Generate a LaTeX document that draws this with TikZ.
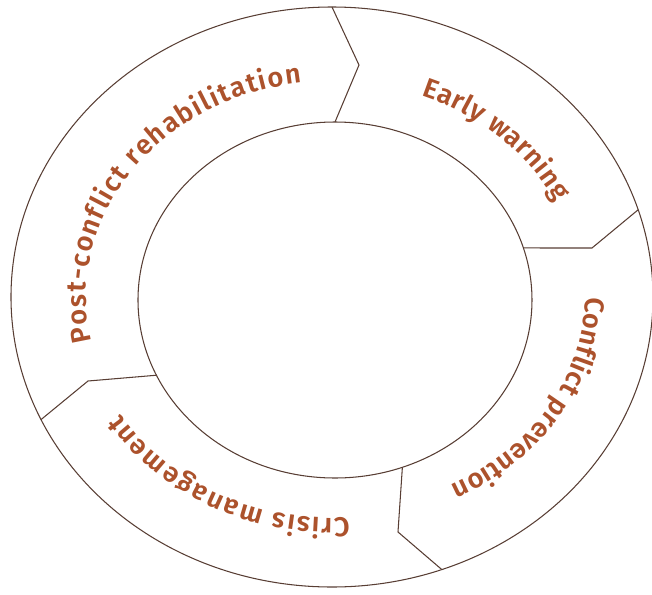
\documentclass[tikz,border=0pt]{standalone}
\usepackage{fontspec}
\newfontfamily\lblfont{Fira Sans SemiBold}
\usepackage{tikz}
\usetikzlibrary{calc,decorations.text}

\definecolor{ringcol}{RGB}{88,62,52}
\definecolor{lblcol}{RGB}{172,82,44}

\tikzset{
    ring/.style={draw=ringcol, line width=0.6pt},
    divider/.style={draw=ringcol, line width=0.6pt, line join=miter},
    ringtext/.style={decorate, decoration={text along path, text align=fit to path,
        text color=lblcol, text={|\lblfont\fontsize{15.5}{18}\selectfont|#1}}}
}

\begin{document}
\begin{tikzpicture}
    \useasboundingbox (-6.64,-5.94) rectangle (6.40,5.94);

    % Centres
    \coordinate (o) at (0,0);
    \coordinate (i) at (0.06,-0.06);

    % Rings
    \draw[ring] (o) ellipse [x radius=6.42cm, y radius=5.80cm];
    \draw[ring] (i) ellipse [x radius=3.94cm, y radius=3.56cm];

    % Divider ends on the outer ring
    \coordinate (o1) at ($(o)+(90:6.42cm and 5.80cm)$);
    \coordinate (o2) at ($(o)+(17.5:6.42cm and 5.80cm)$);
    \coordinate (o3) at ($(o)+(-70:6.42cm and 5.80cm)$);
    \coordinate (o4) at ($(o)+(205:6.42cm and 5.80cm)$);

    % Divider ends on the inner ring
    \coordinate (i1) at ($(i)+(90:3.94cm and 3.56cm)$);
    \coordinate (i2) at ($(i)+(17:3.94cm and 3.56cm)$);
    \coordinate (i3) at ($(i)+(-70:3.94cm and 3.56cm)$);
    \coordinate (i4) at ($(i)+(205:3.94cm and 3.56cm)$);

    % Arrow points
    \coordinate (k1) at (0.54,4.64);
    \coordinate (k2) at (5.20,0.98);
    \coordinate (k3) at (1.32,-4.70);
    \coordinate (k4) at (-4.88,-1.68);

    % Dividers
    \draw[divider] (o1) -- (k1) -- (i1);
    \draw[divider] (o2) -- (k2) -- (i2);
    \draw[divider] (o3) -- (k3) -- (i3);
    \draw[divider] (o4) -- (k4) -- (i4);

    % Labels
    \path[ringtext={Post-conflict rehabilitation}] (192:4.92cm and 4.32cm)
        arc[start angle=192, end angle=97, x radius=4.92cm, y radius=4.32cm];
    \path[ringtext={Early warning}] (69:4.98cm and 4.32cm)
        arc[start angle=69, end angle=26, x radius=4.98cm, y radius=4.32cm];
    \path[ringtext={Conflict prevention}] (0:5.06cm and 4.26cm)
        arc[start angle=0, end angle=-62, x radius=5.06cm, y radius=4.26cm];
    \path[ringtext={Crisis management}] (274:5.00cm and 4.42cm)
        arc[start angle=274, end angle=212, x radius=5.00cm, y radius=4.42cm];
\end{tikzpicture}
\end{document}
